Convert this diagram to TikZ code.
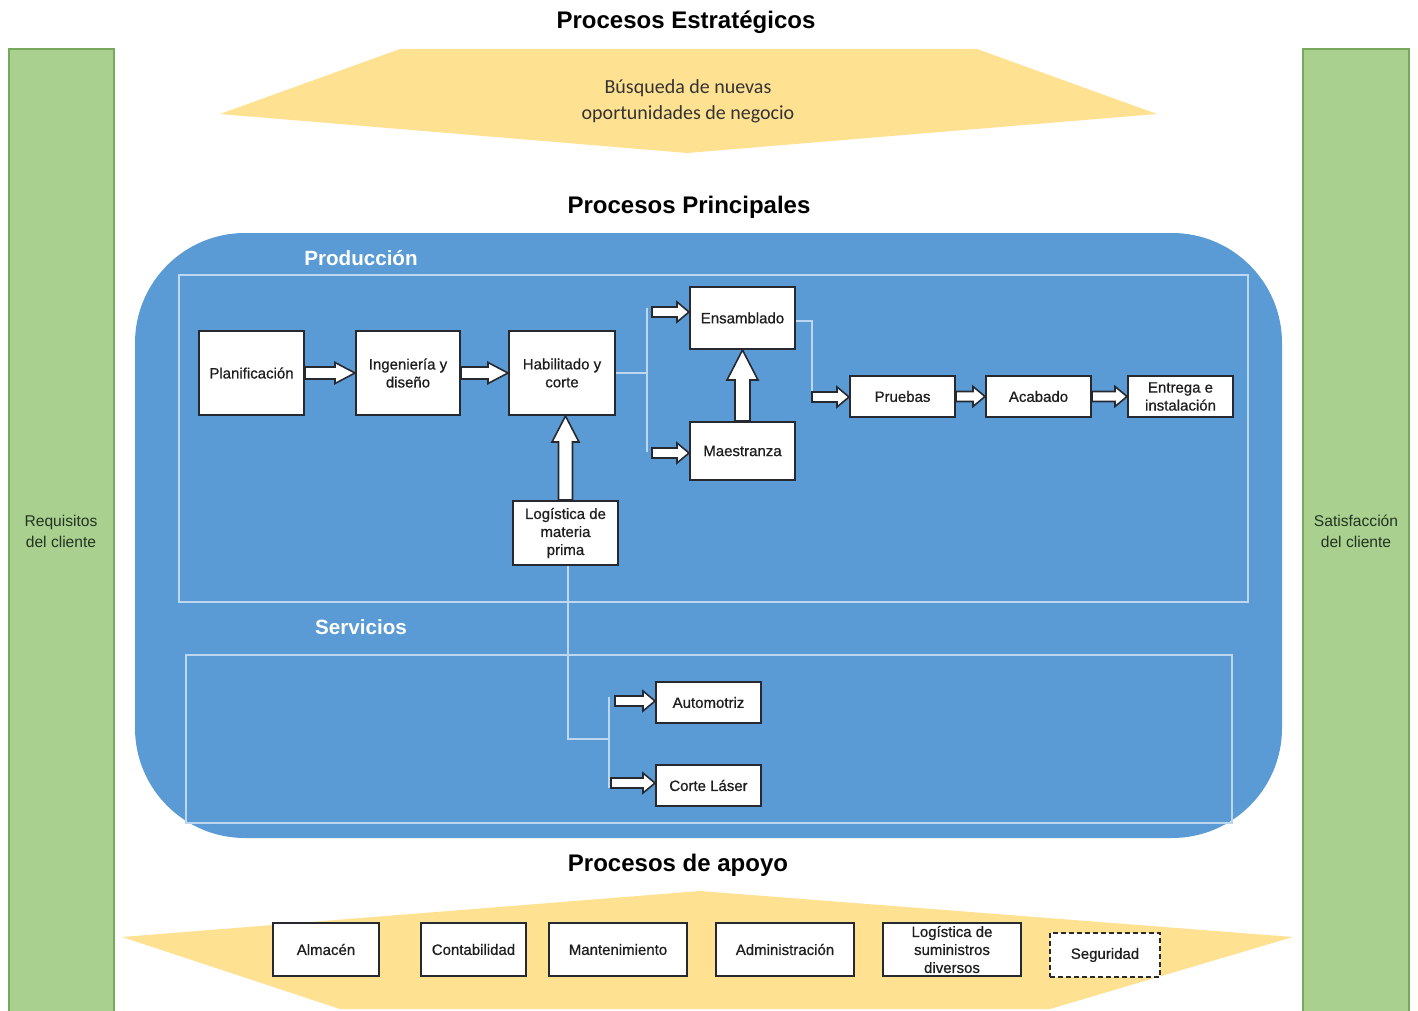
\documentclass[tikz,border=0pt]{standalone}
\usepackage{fontspec}
\setmainfont{Liberation Sans}
\newfontfamily\calibrifont{Carlito}
\newfontfamily\boxfont{Liberation Sans}[FakeBold=0.7]
\usetikzlibrary{calc}

\definecolor{bandyellow}{RGB}{255,225,146}
\definecolor{sidegreen}{RGB}{169,208,142}
\definecolor{sidegreenline}{RGB}{120,168,92}
\definecolor{mainblue}{RGB}{91,155,213}
\definecolor{paleline}{RGB}{189,215,238}
\definecolor{boxline}{RGB}{38,42,48}
\definecolor{darktext}{RGB}{30,30,30}
\definecolor{greentext}{RGB}{34,52,34}

\tikzset{
  sidebar/.style={fill=sidegreen, draw=sidegreenline, line width=0.8pt},
  band/.style={fill=bandyellow, draw=none},
  title/.style={font=\fontsize{12}{14}\selectfont\bfseries, text=black},
  grouplabel/.style={font=\fontsize{10.3}{12}\selectfont\bfseries, text=white},
  frame/.style={draw=paleline, line width=1pt},
  link/.style={draw=paleline, line width=1pt},
  procbox/.style={draw=boxline, fill=white, line width=1pt, align=center,
    text=darktext, font=\boxfont\fontsize{7.5}{9}\selectfont, inner sep=1pt},
  blockarrow/.style={fill=white, draw=boxline, line width=0.8pt, line join=miter},
}

% horizontal block arrow: start, end, shaft half height, head half height, head length
\newcommand\hblock[5]{%
  \draw[blockarrow] let \p1=(#1), \p2=(#2) in
    (\x1,\y1+#3) -- (\x2-#5,\y1+#3) -- (\x2-#5,\y1+#4) -- (\x2,\y1)
    -- (\x2-#5,\y1-#4) -- (\x2-#5,\y1-#3) -- (\x1,\y1-#3) -- cycle;}
% upward block arrow: start, end, shaft half width, head half width, head length
\newcommand\vblock[5]{%
  \draw[blockarrow] let \p1=(#1), \p2=(#2) in
    (\x1-#3,\y1) -- (\x1-#3,\y2-#5) -- (\x1-#4,\y2-#5) -- (\x1,\y2)
    -- (\x1+#4,\y2-#5) -- (\x1+#3,\y2-#5) -- (\x1+#3,\y1) -- cycle;}

\begin{document}
\begin{tikzpicture}[x=0.5pt,y=-0.5pt]
\useasboundingbox (0,0) rectangle (1418,1011);
\fill[white] (0,0) rectangle (1418,1011);

% side bars
\draw[sidebar] (9,49) rectangle (114,1014);
\draw[sidebar] (1303,49) rectangle (1409,1014);
\node[font=\fontsize{7.8}{10.5}\selectfont, text=greentext, align=center] (req) at (61,531) {Requisitos\\del cliente};
\node[font=\fontsize{7.8}{10.5}\selectfont, text=greentext, align=center] (sat) at (1356,531) {Satisfacción\\del cliente};

% strategic band
\node[title] (tstrat) at (686,22) {Procesos Estratégicos};
\fill[band] (400,49) -- (977,49) -- (1157,114) -- (687,153) -- (220,114) -- cycle;
\node[font=\calibrifont\fontsize{10}{13}\selectfont, text=black!80, align=center] (busq) at (688,101)
  {Búsqueda de nuevas\\oportunidades de negocio};

% main processes
\node[title] (tmain) at (689,207) {Procesos Principales};
\fill[mainblue, rounded corners=55pt] (135,233) rectangle (1282,838);
\draw[frame] (179,275) rectangle (1248,602);
\draw[frame] (186,655) rectangle (1232,823);
\node[grouplabel] (lprod) at (361,258) {Producción};
\node[grouplabel] (lserv) at (361,627) {Servicios};

% production boxes
\node[procbox, minimum width=52.5pt, minimum height=42pt] (plan) at (251.5,373) {Planificación};
\node[procbox, minimum width=52pt, minimum height=42pt] (ing) at (408,373) {Ingeniería y\\diseño};
\node[procbox, minimum width=53pt, minimum height=42pt] (hab) at (562,373) {Habilitado y\\corte};
\node[procbox, minimum width=52.5pt, minimum height=32pt] (log) at (565.5,533) {Logística de\\materia\\prima};
\node[procbox, minimum width=52.5pt, minimum height=31pt] (ens) at (742.5,318) {Ensamblado};
\node[procbox, minimum width=52.5pt, minimum height=29pt] (mae) at (742.5,451) {Maestranza};
\node[procbox, minimum width=52.5pt, minimum height=20.5pt] (pru) at (902.5,396.5) {Pruebas};
\node[procbox, minimum width=52.5pt, minimum height=20.5pt] (aca) at (1038.5,396.5) {Acabado};
\node[procbox, minimum width=52.5pt, minimum height=20.5pt] (ent) at (1180.5,396.5) {Entrega e\\instalación};

% service boxes
\node[procbox, minimum width=52.5pt, minimum height=20.5pt] (aut) at (708.5,702.5) {Automotriz};
\node[procbox, minimum width=52.5pt, minimum height=20.5pt] (cor) at (708.5,785.5) {Corte Láser};

% connector lines
\coordinate (bTop) at (647,308);
\coordinate (bBot) at (647,452);
\draw[link] (hab.east) -- (hab.east -| bTop);
\draw[link] (bTop) -- (bBot);
\coordinate (eR) at (812,321);
\coordinate (pIn) at (812,397);
\draw[link] (ens.east |- eR) -- (eR) -- (pIn);
\coordinate (lDown) at (568,739);
\coordinate (sTop) at (609,697);
\coordinate (sBot) at (609,788);
\draw[link] (log.south -| lDown) -- (lDown) -- (lDown -| sTop);
\draw[link] (sTop) -- (sBot);

% block arrows
\hblock{plan.east}{ing.west}{3pt}{5.25pt}{10pt}
\hblock{ing.east}{hab.west}{3pt}{5.25pt}{10pt}
\vblock{log.north}{hab.south}{3.5pt}{6.75pt}{13pt}
\vblock{mae.north}{ens.south}{3.75pt}{7.75pt}{15pt}
\coordinate (eIn) at (652,312);
\coordinate (mIn) at (652,453);
\hblock{eIn}{ens.west}{2.5pt}{5pt}{6pt}
\hblock{mIn}{mae.west}{2.5pt}{5pt}{6pt}
\hblock{pIn}{pru.west}{2.5pt}{5pt}{6pt}
\hblock{pru.east}{aca.west}{2.5pt}{5pt}{6pt}
\hblock{aca.east}{ent.west}{2.5pt}{5pt}{6pt}
\coordinate (aIn) at (615,701);
\coordinate (cIn) at (611,783);
\hblock{aIn}{aut.west}{2.5pt}{5pt}{6pt}
\hblock{cIn}{cor.west}{2.5pt}{5pt}{6pt}

% support processes
\node[title] (tsup) at (678,865) {Procesos de apoyo};
\fill[band] (122,937) -- (700,891) -- (1293,937) -- (1050,1009) -- (340,1009) -- cycle;
\node[procbox, minimum width=53pt, minimum height=26.5pt] (alm) at (326,949.5) {Almacén};
\node[procbox, minimum width=52.5pt, minimum height=26.5pt] (con) at (473.5,949.5) {Contabilidad};
\node[procbox, minimum width=69pt, minimum height=26.5pt] (man) at (618,949.5) {Mantenimiento};
\node[procbox, minimum width=69pt, minimum height=26.5pt] (adm) at (785,949.5) {Administración};
\node[procbox, minimum width=69pt, minimum height=26.5pt] (lsd) at (952,949.5) {Logística de\\suministros\\diversos};
\node[procbox, dash pattern=on 2.5pt off 1.5pt, minimum width=55pt, minimum height=22pt] (seg) at (1105,955) {Seguridad};
\end{tikzpicture}
\end{document}
